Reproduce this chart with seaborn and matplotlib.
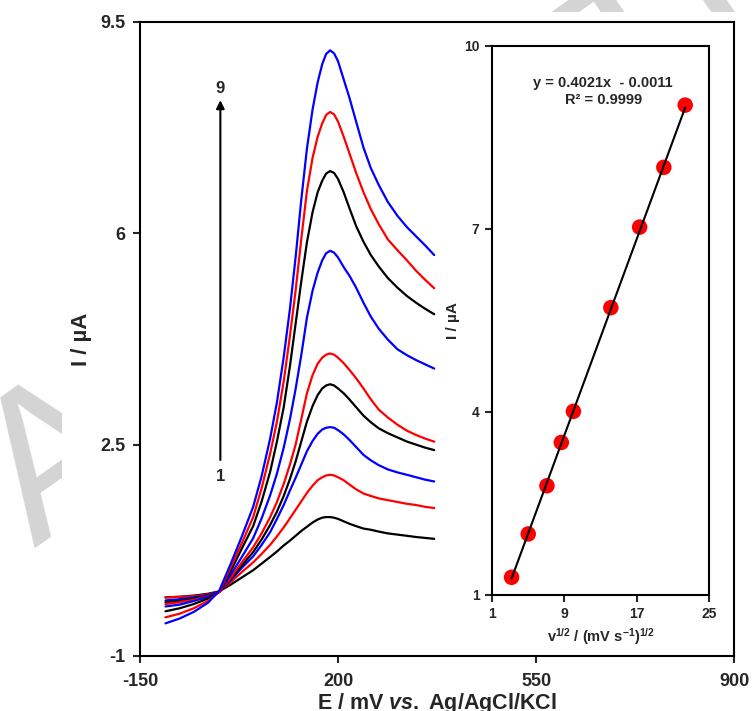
import matplotlib
matplotlib.use("Agg")
import matplotlib.pyplot as plt
from matplotlib.patches import Rectangle
import pandas as pd
import seaborn as sns

# Differential pulse voltammograms at nine scan rates (potential in mV, current in µA)
potential_mV = [-105, -80, -55, -30, -10, 10, 30, 50, 65, 80, 92, 104, 115, 125, 135,
                145, 155, 164, 172, 179, 186, 193, 200, 210, 220, 232, 245, 258, 272,
                288, 305, 322, 338, 354, 370]

i_1 = [-0.03, -0.02, 0.00, 0.03, 0.07, 0.18, 0.30, 0.42, 0.53, 0.64, 0.73, 0.83, 0.91, 0.99,
       1.07, 1.14, 1.21, 1.26, 1.29, 1.30, 1.30, 1.29, 1.27, 1.23, 1.19, 1.15, 1.11, 1.09,
       1.06, 1.03, 1.01, 0.99, 0.97, 0.955, 0.94]
i_2 = [-0.03, -0.02, -0.01, 0.02, 0.065, 0.22, 0.39, 0.55, 0.69, 0.84, 0.98, 1.13, 1.28,
       1.42, 1.56, 1.70, 1.82, 1.91, 1.96, 1.99, 2.00, 1.99, 1.96, 1.91, 1.84, 1.76, 1.69,
       1.65, 1.61, 1.58, 1.55, 1.52, 1.50, 1.47, 1.45]
i_3 = [-0.08, -0.06, -0.03, 0.01, 0.065, 0.25, 0.46, 0.65, 0.84, 1.05, 1.27, 1.50, 1.74,
       1.95, 2.17, 2.39, 2.56, 2.68, 2.75, 2.78, 2.79, 2.78, 2.74, 2.67, 2.58, 2.46, 2.33,
       2.24, 2.16, 2.09, 2.04, 2.00, 1.96, 1.92, 1.89]
i_4 = [-0.11, -0.09, -0.05, 0.00, 0.06, 0.27, 0.50, 0.72, 0.93, 1.17, 1.39, 1.65, 1.93,
       2.22, 2.55, 2.88, 3.14, 3.32, 3.43, 3.48, 3.50, 3.48, 3.43, 3.35, 3.25, 3.12, 2.98,
       2.87, 2.77, 2.69, 2.62, 2.55, 2.50, 2.45, 2.41]
i_5 = [-0.14, -0.11, -0.07, -0.01, 0.06, 0.29, 0.55, 0.80, 1.03, 1.30, 1.55, 1.85, 2.17,
       2.50, 2.92, 3.35, 3.65, 3.84, 3.94, 3.99, 4.01, 3.99, 3.94, 3.85, 3.74, 3.60, 3.43,
       3.25, 3.08, 2.95, 2.83, 2.73, 2.66, 2.60, 2.55]
i_6 = [-0.18, -0.15, -0.09, -0.02, 0.06, 0.34, 0.64, 0.95, 1.28, 1.66, 2.02, 2.45, 2.92,
       3.42, 3.98, 4.60, 5.05, 5.35, 5.55, 5.67, 5.71, 5.68, 5.60, 5.44, 5.30, 5.10, 4.85,
       4.62, 4.42, 4.24, 4.08, 3.98, 3.90, 3.83, 3.76]
i_7 = [-0.26, -0.21, -0.14, -0.05, 0.06, 0.40, 0.78, 1.15, 1.56, 2.05, 2.55, 3.12, 3.80,
       4.50, 5.20, 5.85, 6.35, 6.68, 6.87, 6.99, 7.03, 7.00, 6.90, 6.68, 6.42, 6.12, 5.86,
       5.64, 5.45, 5.26, 5.10, 4.96, 4.85, 4.75, 4.66]
i_8 = [-0.36, -0.30, -0.21, -0.09, 0.06, 0.46, 0.87, 1.30, 1.78, 2.35, 2.88, 3.55, 4.30,
       5.05, 5.90, 6.70, 7.25, 7.60, 7.82, 7.96, 8.01, 7.97, 7.85, 7.60, 7.33, 7.00, 6.68,
       6.40, 6.15, 5.90, 5.72, 5.55, 5.38, 5.23, 5.09]
i_9 = [-0.46, -0.38, -0.27, -0.12, 0.08, 0.52, 0.98, 1.47, 1.98, 2.60, 3.20, 3.95, 4.75,
       5.60, 6.55, 7.40, 8.05, 8.50, 8.80, 8.97, 9.03, 8.98, 8.85, 8.55, 8.25, 7.85, 7.42,
       7.08, 6.80, 6.52, 6.29, 6.10, 5.95, 5.80, 5.64]

curve_colors = ["black", "red", "blue", "black", "red", "blue", "black", "red", "blue"]

# Peak current against square root of scan rate
sqrt_scan_rate = [3.16, 5.00, 7.07, 8.66, 10.00, 14.14, 17.32, 20.00, 22.36]
peak_current_uA = [1.29, 2.00, 2.79, 3.50, 4.01, 5.71, 7.03, 8.01, 9.03]
fit_slope = 0.4021
fit_intercept = -0.0011
fit_r2 = "0.9999"

main_xticks = [-150, 200, 550, 900]
main_yticks = [-1, 2.5, 6, 9.5]
inset_xticks = [1, 9, 17, 25]
inset_yticks = [1, 4, 7, 10]

sns.set_style("ticks")
plt.rcParams.update({
    "font.family": ["Liberation Sans", "DejaVu Sans"],
    "font.weight": "bold",
    "axes.labelweight": "bold",
    "axes.unicode_minus": False,
    "mathtext.fontset": "custom",
    "mathtext.rm": "Liberation Sans:bold",
    "mathtext.it": "Liberation Sans:italic:bold",
    "mathtext.bf": "Liberation Sans:bold",
    "axes.linewidth": 1.5,
    "axes.edgecolor": "black",
})

fig = plt.figure(figsize=(7.52, 7.11), dpi=100)

# faint journal watermark behind the figure panel
fig.text(0.046, 0.229, "ACCEPTED MANUSCRIPT", rotation=35, rotation_mode="anchor",
         ha="left", va="baseline", fontsize=150, color="#d4d4d4",
         fontweight="normal", zorder=-2)
fig.add_artist(Rectangle((62 / 752, 0), 1, 1 - 12 / 711, transform=fig.transFigure,
                         facecolor="white", edgecolor="none", zorder=-1))

ax = fig.add_axes([0.1862, 0.0774, 0.7899, 0.8917])
rows = []
for k, cur in enumerate([i_1, i_2, i_3, i_4, i_5, i_6, i_7, i_8, i_9]):
    for e, i in zip(potential_mV, cur):
        rows.append({"E": e, "I": i, "scan": k + 1})
df = pd.DataFrame(rows)
palette = {k + 1: c for k, c in enumerate(curve_colors)}
sns.lineplot(data=df, x="E", y="I", hue="scan", palette=palette, estimator=None,
             sort=False, legend=False, linewidth=1.6, ax=ax)

ax.set_xlim(-150, 900)
ax.set_ylim(-1, 9.5)
ax.set_xticks(main_xticks)
ax.set_xticklabels([str(v) for v in main_xticks])
ax.set_yticks(main_yticks)
ax.set_yticklabels(["-1", "2.5", "6", "9.5"])
ax.tick_params(axis="both", direction="out", length=5, width=1.5, labelsize=13)
ax.tick_params(axis="x", pad=7.5)
ax.tick_params(axis="y", pad=5.5)
for s in ax.spines.values():
    s.set_visible(True)
    s.set_linewidth(1.5)
ax.set_xlabel("E / mV $\\mathit{vs.}$ Ag/AgCl/KCl", fontsize=15.5, labelpad=0.5)
ax.set_ylabel("I / µA", fontsize=16, labelpad=6)

# scan-rate arrow from curve 1 to curve 9
ax.annotate("", xy=(-8, 8.25), xytext=(-8, 2.2),
            arrowprops=dict(arrowstyle="-|>", color="black", lw=1.5, mutation_scale=12))
ax.text(-8, 8.4, "9", ha="center", va="center", fontsize=12, fontweight="bold")
ax.text(-8, 1.98, "1", ha="center", va="center", fontsize=12, fontweight="bold")

# inset: peak current vs square root of scan rate
axin = fig.add_axes([0.6543, 0.1632, 0.2886, 0.7722])
sns.scatterplot(x=sqrt_scan_rate, y=peak_current_uA, color="red", s=125,
                edgecolor="none", zorder=3, ax=axin)
fit_x = [min(sqrt_scan_rate), max(sqrt_scan_rate)]
fit_y = [fit_slope * x + fit_intercept for x in fit_x]
sns.lineplot(x=fit_x, y=fit_y, color="black", linewidth=1.5, zorder=4, ax=axin)
axin.set_xlim(1, 25)
axin.set_ylim(1, 10)
axin.set_xticks(inset_xticks)
axin.set_yticks(inset_yticks)
axin.tick_params(axis="both", direction="out", length=5, width=1.5, labelsize=10, pad=4)
for s in axin.spines.values():
    s.set_visible(True)
    s.set_linewidth(1.5)
axin.set_xlabel("v$^{1/2}$ / (mV s$^{-1}$)$^{1/2}$", fontsize=10.5, labelpad=3)
axin.set_ylabel("I / µA", fontsize=11, labelpad=3)
axin.text(13.3, 9.39, f"y = {fit_slope:.4f}x  - {abs(fit_intercept):.4f}",
          ha="center", va="center", fontsize=10.5, fontweight="bold")
axin.text(13.3, 9.11, f"R² = {fit_r2}", ha="center", va="center",
          fontsize=10.5, fontweight="bold")

fig.savefig("out.png", dpi=100)
